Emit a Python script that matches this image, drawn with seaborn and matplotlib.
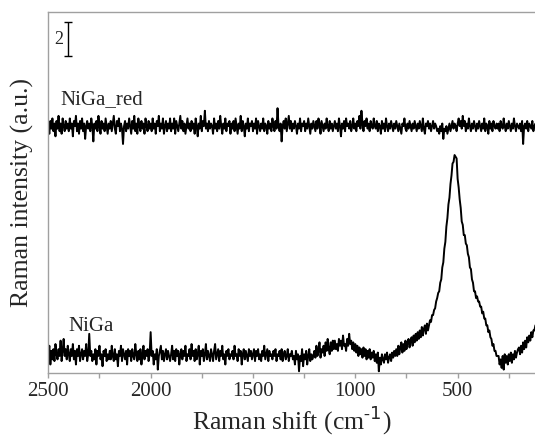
import numpy as np
import pandas as pd
import matplotlib
matplotlib.use("Agg")
import matplotlib.pyplot as plt
import seaborn as sns

# Raman shift grid (cm-1), 2500 -> 120 in 5 cm-1 steps
shift = np.arange(2500, 119, -5)

niga = [
    1.0, 1.6, 0.5, 1.3, 0.8, 1.4, 0.7, 1.7, 1.1, 0.8, 1.4, 1.0, 1.9, 0.7, 1.3, 2.0, 1.0, 1.4, 0.8, 1.6,
    1.1, 0.7, 1.4, 1.0, 1.7, 0.8, 1.3, 0.5, 1.4, 1.0, 1.6, 0.7, 1.1, 1.4, 0.8, 1.3, 1.0, 1.7, 0.7, 1.1,
    2.3, 1.0, 1.3, 0.7, 1.1, 0.8, 1.4, 0.5, 1.3, 1.0, 1.6, 0.8, 1.1, 0.4, 1.3, 1.0, 1.4, 0.7, 1.1, 0.8,
    1.3, 0.8, 1.6, 1.0, 0.7, 1.4, 0.8, 1.1, 0.4, 1.3, 1.0, 1.6, 0.7, 1.4, 1.1, 0.8, 1.3, 0.5, 1.4, 1.0,
    1.3, 0.7, 1.4, 1.0, 0.8, 1.7, 1.1, 0.7, 1.3, 0.8, 1.4, 0.5, 1.1, 1.6, 0.8, 1.3, 1.0, 1.4, 0.7, 1.1,
    2.4, 1.0, 1.3, 0.5, 1.1, 0.8, 1.4, 0.2, 1.0, 1.3, 1.6, 0.8, 1.3, 0.7, 1.1, 1.4, 0.8, 1.3, 1.0, 0.7,
    1.1, 1.6, 0.8, 1.3, 0.7, 1.4, 1.0, 1.3, 0.5, 1.1, 1.4, 0.8, 1.3, 1.0, 1.6, 0.7, 1.1, 1.0, 1.4, 0.8,
    1.7, 1.0, 1.3, 0.7, 1.4, 0.8, 1.1, 1.6, 0.5, 1.3, 1.0, 1.4, 0.7, 1.1, 1.7, 0.8, 1.3, 1.0, 0.7, 1.4,
    1.1, 0.7, 1.3, 1.7, 0.8, 1.1, 1.4, 0.7, 1.3, 1.0, 1.6, 0.8, 1.1, 0.5, 1.3, 1.0, 1.4, 0.8, 1.1, 1.0,
    1.3, 0.8, 1.6, 1.0, 1.1, 0.7, 1.4, 1.0, 1.3, 0.5, 1.1, 1.4, 0.8, 1.3, 1.0, 0.7, 1.4, 1.0, 1.3, 0.8,
    1.1, 1.4, 0.7, 1.3, 1.0, 1.4, 0.8, 1.1, 0.7, 1.3, 1.0, 1.6, 0.8, 1.1, 1.4, 0.7, 1.3, 1.0, 1.1, 0.8,
    1.3, 1.0, 1.4, 0.7, 1.1, 1.0, 1.3, 0.8, 1.4, 0.7, 1.1, 1.3, 0.8, 1.0, 1.4, 0.7, 1.1, 1.0, 1.3, 0.8,
    1.0, 0.5, 1.3, 0.8, 1.1, 0.1, 1.0, 0.7, 1.4, 0.4, 1.1, 0.8, 1.3, 0.5, 1.0, 1.4, 0.7, 1.1, 0.8, 1.0,
    1.3, 0.9, 1.6, 1.0, 1.3, 1.8, 0.9, 1.4, 1.2, 1.6, 1.0, 1.8, 1.3, 2.0, 1.4, 1.1, 1.8, 1.3, 1.9, 1.4,
    1.9, 1.4, 1.7, 1.3, 2.0, 1.6, 1.9, 1.4, 2.2, 1.6, 1.7, 1.3, 2.0, 1.6, 2.3, 1.7, 1.9, 1.4, 1.8, 1.3,
    1.7, 1.2, 1.6, 1.0, 1.5, 1.1, 1.4, 0.9, 1.5, 1.0, 1.4, 0.8, 1.3, 0.9, 1.4, 0.8, 1.2, 0.9, 1.3, 0.7,
    1.1, 0.6, 1.2, 0.1, 0.9, 0.5, 1.1, 0.8, 0.6, 1.1, 0.8, 1.2, 0.6, 0.9, 1.1, 0.7, 1.2, 0.9, 1.3, 1.0,
    1.4, 1.0, 1.6, 1.1, 1.5, 1.8, 1.2, 1.7, 1.3, 1.9, 1.4, 1.8, 2.0, 1.5, 1.9, 2.1, 1.6, 2.2, 1.8, 2.3,
    1.9, 2.4, 2.0, 2.5, 2.1, 2.7, 2.2, 2.6, 2.8, 2.3, 2.9, 2.5, 2.8, 3.1, 3.0, 3.4, 3.4, 3.7, 3.8, 4.2,
    4.4, 4.7, 4.8, 5.3, 5.5, 6.2, 6.5, 7.3, 7.7, 8.6, 9.1, 9.9, 10.3, 11.1, 11.6, 12.3, 12.4, 12.8, 12.7, 12.6,
    11.4, 10.9, 10.2, 9.7, 8.9, 8.7, 8.1, 8.1, 7.6, 7.5, 7.0, 6.8, 6.2, 6.1, 5.5, 5.3, 4.8, 4.8, 4.4, 4.5,
    4.2, 4.2, 3.9, 3.9, 3.5, 3.6, 3.2, 3.2, 2.8, 2.8, 2.4, 2.5, 2.1, 2.0, 1.6, 1.7, 1.3, 1.3, 1.0, 1.0,
    1.0, 0.5, 0.8, 0.3, 1.0, 0.2, 1.1, 0.6, 1.0, 0.5, 1.1, 0.7, 1.2, 0.6, 1.1, 0.8, 1.3, 0.9, 1.2, 1.4,
    1.5, 1.1, 1.6, 1.2, 1.8, 1.4, 1.9, 1.5, 2.1, 1.8, 2.2, 1.9, 2.4, 2.1, 2.5, 2.5, 2.8,
]

niga_red = [
    14.5, 14.05, 14.8, 14.35, 14.95, 14.2, 14.65, 13.9, 14.8, 14.35, 15.1, 14.2, 14.65, 14.05, 14.95, 14.5, 14.2, 14.8, 14.35, 14.65,
    14.2, 14.95, 14.35, 14.65, 13.9, 14.8, 14.5, 15.1, 14.2, 14.65, 14.05, 14.8, 14.35, 14.95, 14.2, 14.65, 13.75, 14.5, 14.8, 14.35,
    14.65, 14.2, 14.95, 14.5, 13.6, 14.65, 14.35, 14.8, 14.2, 15.1, 14.5, 14.05, 14.8, 14.35, 14.65, 14.2, 14.95, 14.5, 14.05, 14.65,
    14.35, 14.8, 14.2, 14.65, 15.1, 14.35, 14.05, 14.8, 14.5, 14.95, 14.2, 14.65, 14.35, 13.45, 14.5, 14.8, 14.2, 14.65, 14.35, 14.95,
    14.5, 14.05, 14.8, 14.35, 15.1, 14.2, 14.65, 14.05, 14.95, 14.5, 14.2, 14.8, 14.35, 14.65, 14.05, 14.95, 14.5, 14.2, 14.8, 14.35,
    14.65, 14.2, 14.95, 14.35, 14.65, 14.05, 14.8, 14.5, 15.1, 14.2, 14.65, 14.35, 14.95, 14.05, 14.5, 14.8, 14.2, 14.65, 14.35, 14.95,
    14.2, 14.65, 14.35, 14.95, 14.05, 14.8, 14.5, 14.2, 14.65, 15.1, 14.35, 14.8, 14.2, 14.65, 14.05, 14.5, 14.95, 14.35, 14.65, 14.2,
    14.8, 14.35, 14.65, 14.05, 14.95, 14.5, 13.9, 14.65, 14.35, 15.1, 14.2, 14.8, 14.5, 15.4, 14.35, 14.65, 14.2, 14.8, 14.35, 14.65,
    14.5, 14.05, 14.95, 14.35, 14.65, 14.2, 14.8, 14.35, 15.1, 14.5, 14.05, 14.65, 14.35, 14.95, 14.2, 14.65, 14.5, 14.8, 14.05, 14.65,
    14.35, 14.8, 14.2, 14.95, 14.5, 14.05, 14.65, 14.35, 15.1, 14.2, 14.8, 14.5, 13.9, 14.65, 14.35, 14.95, 14.2, 14.65, 14.5, 14.8,
    14.2, 14.65, 14.35, 14.95, 14.05, 14.8, 14.5, 14.2, 14.65, 14.35, 14.95, 14.2, 14.65, 14.5, 14.05, 14.8, 14.35, 14.65, 14.2, 14.95,
    14.5, 14.2, 14.8, 14.35, 15.55, 14.5, 14.2, 14.65, 13.6, 14.5, 14.8, 14.35, 14.95, 14.2, 14.65, 15.1, 14.35, 14.8, 14.2, 14.65,
    14.35, 14.8, 14.5, 14.05, 14.65, 14.35, 14.95, 14.2, 14.65, 14.5, 14.8, 14.2, 14.65, 14.35, 14.95, 14.5, 14.05, 14.65, 14.35, 14.8,
    14.5, 14.2, 14.8, 14.35, 14.95, 14.65, 14.05, 14.8, 14.5, 14.2, 14.65, 14.35, 14.95, 14.5, 14.2, 14.8, 14.35, 14.65, 14.2, 14.5,
    14.8, 14.35, 14.65, 14.2, 14.95, 14.5, 13.9, 14.65, 14.35, 14.8, 14.2, 14.95, 14.5, 14.65, 14.35, 14.8, 14.2, 14.5, 14.95, 14.35,
    14.65, 14.2, 14.8, 14.5, 15.1, 14.35, 15.4, 14.65, 14.2, 14.8, 14.5, 14.95, 14.35, 14.65, 14.2, 14.8, 14.5, 14.35, 14.95, 14.5,
    14.35, 14.8, 14.2, 14.65, 14.5, 14.05, 14.8, 14.35, 14.65, 14.2, 14.95, 14.5, 14.2, 14.65, 14.35, 14.8, 14.5, 14.2, 14.65, 14.35,
    14.8, 14.5, 14.2, 14.65, 14.35, 14.05, 14.65, 14.5, 14.95, 14.35, 14.2, 14.65, 14.35, 14.8, 14.5, 14.2, 14.65, 14.35, 14.8, 14.5,
    14.2, 14.65, 14.35, 14.8, 14.5, 14.2, 14.95, 14.35, 14.05, 14.65, 14.5, 14.8, 14.35, 14.65, 14.2, 14.5, 14.8, 14.35, 14.65, 14.5,
    14.2, 14.35, 14.05, 14.5, 14.2, 14.65, 13.75, 14.35, 14.2, 14.5, 14.05, 14.35, 14.65, 14.2, 14.5, 14.8, 14.35, 14.65, 14.5, 14.2,
    14.65, 14.95, 14.5, 14.8, 14.35, 15.1, 14.5, 14.8, 14.2, 14.65, 14.35, 14.95, 14.5, 14.2, 14.65, 14.35, 14.8, 14.5, 14.2, 14.65,
    14.35, 14.8, 14.5, 14.2, 14.65, 14.35, 14.95, 14.2, 14.65, 14.5, 14.05, 14.8, 14.35, 14.65, 14.2, 14.8, 14.5, 14.35, 14.65, 14.35,
    14.65, 14.2, 14.8, 14.5, 14.35, 14.95, 14.5, 14.2, 14.65, 14.35, 14.8, 14.5, 14.2, 14.65, 14.35, 14.95, 14.5, 14.2, 14.65, 14.5,
    14.35, 14.65, 14.2, 14.8, 13.45, 14.5, 14.65, 14.35, 14.8, 14.2, 14.65, 14.5, 14.35, 14.8, 14.2, 14.5, 14.65,
]

series_names = ["NiGa_red", "NiGa"]
xticks = [2500, 2000, 1500, 1000, 500]

assert len(niga) == len(shift) and len(niga_red) == len(shift)

df = pd.concat([
    pd.DataFrame({"shift": shift, "intensity": niga_red, "sample": "NiGa_red"}),
    pd.DataFrame({"shift": shift, "intensity": niga, "sample": "NiGa"}),
])

sns.set_style("white")
plt.rcParams["font.family"] = ["Liberation Serif", "DejaVu Serif"]

fig = plt.figure(figsize=(5.35, 4.38), dpi=100)
ax = fig.add_axes([0.0903, 0.1484, 0.9097, 0.8242])

sns.lineplot(data=df, x="shift", y="intensity", units="sample", estimator=None,
             color="black", lw=1.4, ax=ax, sort=False)

ax.set_xlim(2500, 122)
ax.set_ylim(0, 21.2)
ax.set_xticks(xticks)
ax.set_xticklabels([str(t) for t in xticks], fontsize=15)
ax.set_xticks([2250, 1750, 1250, 750, 250], minor=True)
ax.set_yticks([])
ax.tick_params(axis="x", which="both", direction="out", length=3.5, width=1,
               color="#a0a0a0", pad=3, bottom=True)
for s in ["left", "top", "bottom"]:
    ax.spines[s].set_color("#a0a0a0")
    ax.spines[s].set_linewidth(1)
ax.spines["right"].set_visible(False)

ax.set_xlabel("Raman shift (cm$^{\\mathregular{\u2010}1}$)", fontsize=18.5, labelpad=2)
ax.set_ylabel("Raman intensity (a.u.)", fontsize=18.5, labelpad=10)

ax.text(2442, 16.05, series_names[0], fontsize=15, va="center", ha="left")
ax.text(2404, 2.76, series_names[1], fontsize=15, va="center", ha="left")

# scale bar: 2 units
ax.errorbar([2404], [19.6], yerr=[1.0], color="black", lw=1, capsize=3, capthick=1)
ax.text(2425, 19.6, "2", fontsize=13, va="center", ha="right")

fig.savefig("out.png", dpi=100)
